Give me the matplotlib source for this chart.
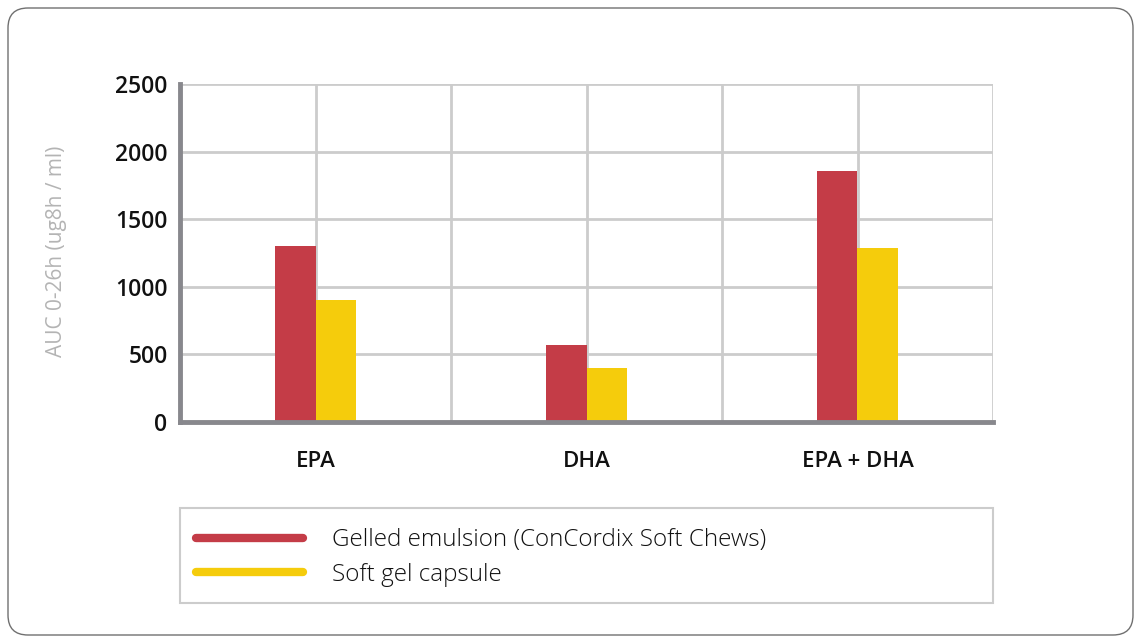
import matplotlib
matplotlib.use("Agg")
import matplotlib.pyplot as plt
import numpy as np
from matplotlib.patches import FancyBboxPatch, Rectangle
from matplotlib.lines import Line2D

categories = ["EPA", "DHA", "EPA + DHA"]
gelled = [1300, 570, 1860]
softgel = [900, 400, 1290]
series_names = ["Gelled emulsion (ConCordix Soft Chews)", "Soft gel capsule"]
colors = ["#c43c47", "#f5cc0c"]
yticks = [0, 500, 1000, 1500, 2000, 2500]

plt.rcParams['font.family'] = ['Open Sans', 'DejaVu Sans']

fig = plt.figure(figsize=(11.41, 6.43), dpi=100)
W, H = 1141, 643

# outer rounded frame
frame = FancyBboxPatch((0.08, 0.08), 11.25, 6.27,
                       boxstyle="round,pad=0,rounding_size=0.2",
                       transform=fig.dpi_scale_trans, facecolor="none",
                       edgecolor="#707070", linewidth=1.0, zorder=-10)
fig.patches.append(frame)

# legend box
lbox = Rectangle((180 / W, 1 - 603 / H), (993 - 180) / W, 95 / H,
                 transform=fig.transFigure, facecolor="none",
                 edgecolor="#cccccc", linewidth=1.5, zorder=-5)
fig.patches.append(lbox)

ax = fig.add_axes([180 / W, 1 - 422 / H, (993 - 180) / W, (422 - 84) / H])
ax.set_facecolor("none")

x = np.arange(len(categories))
bw = 0.148
ax.bar(x - bw / 2, gelled, width=bw, color=colors[0], zorder=3)
ax.bar(x + bw / 2, softgel, width=bw, color=colors[1], zorder=3)

ax.set_xlim(-0.5, 2.5)
ax.set_ylim(0, 2500)
ax.set_yticks(yticks)
ax.set_yticklabels([str(v) for v in yticks], fontsize=16.5, fontweight="semibold", color="#111111")
ax.set_xticks(x)
ax.set_xticklabels(categories, fontsize=16, fontweight="semibold", color="#111111")
ax.set_xticks(np.arange(-0.5, 2.6, 0.5), minor=True)
ax.tick_params(axis="both", which="both", length=0)
ax.tick_params(axis="y", pad=9)
ax.tick_params(axis="x", pad=21)

ax.grid(True, axis="y", color="#cccccc", linewidth=2, zorder=0)
ax.grid(True, axis="x", which="both", color="#cccccc", linewidth=2, zorder=0)

for s in ["top", "right"]:
    ax.spines[s].set_visible(False)
for s in ["left", "bottom"]:
    ax.spines[s].set_color("#88888d")
    ax.spines[s].set_linewidth(3.5)
    ax.spines[s].set_zorder(4)

ax.set_ylabel("AUC 0-26h (ug8h / ml)", fontsize=15, color="#b4b4b4")
ax.yaxis.set_label_coords((67 - 180) / 813, (422 - 251) / 338)

handles = [Line2D([0], [0], color=c, linewidth=6, solid_capstyle="round") for c in colors]
leg = fig.legend(handles, series_names, loc="center left",
                 bbox_to_anchor=(196 / W, 1 - 557.5 / H),
                 ncol=1, frameon=False,
                 fontsize=17.5, handlelength=4.4, handletextpad=1.2,
                 borderpad=0.0, labelspacing=0.45, borderaxespad=0)
for t in leg.get_texts():
    t.set_fontweight("light")
    t.set_color("#111111")

fig.savefig("out.png", dpi=100)
